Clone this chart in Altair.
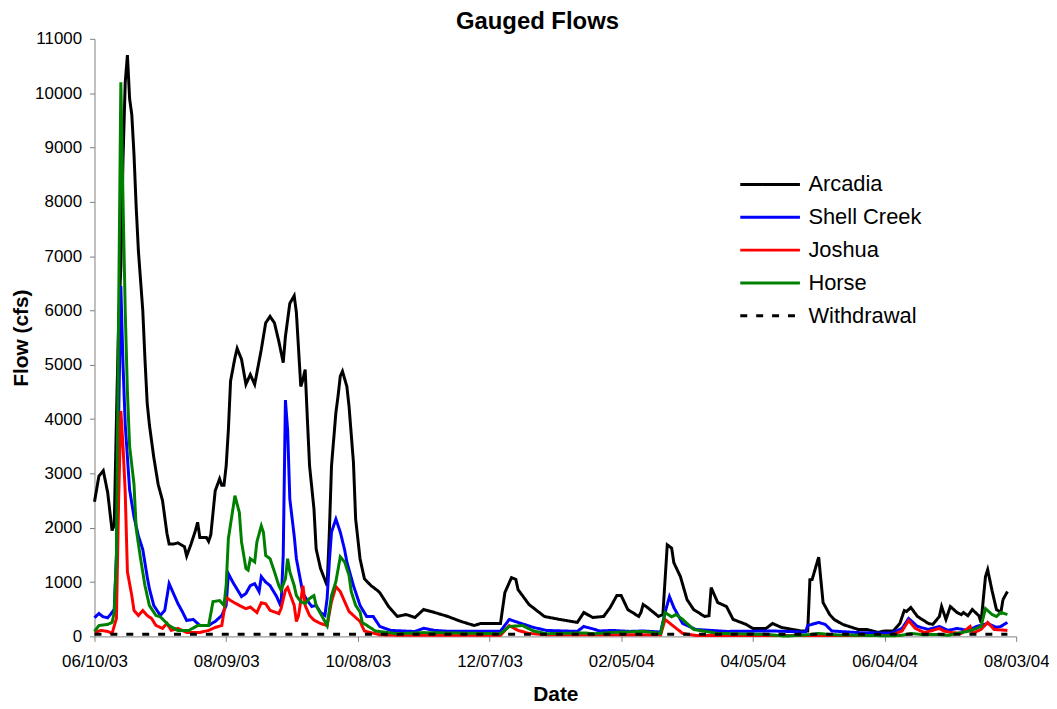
import altair as alt
import pandas as pd

START = "2003-06-10"

series_names = ["Arcadia", "Shell Creek", "Joshua", "Horse", "Withdrawal"]
series_colors = ["#000000", "#0000FF", "#FF0000", "#008000", "#000000"]

# day offsets from 06/10/03 and flows (cfs)
arcadia_days = [0, 2, 4, 6, 7, 8, 9, 10, 11, 12, 13, 14, 15, 16, 17, 18, 19, 20, 22, 23, 24, 25, 27, 29,
                31, 33, 34, 36, 38, 41, 42, 44, 46, 47, 48, 51, 52, 53, 55, 57, 58, 59, 60, 61, 62, 64,
                65, 67, 69, 71, 73, 76, 78, 80, 82, 84, 86, 87, 89, 91, 92, 94, 95, 96, 97, 98, 100, 101,
                103, 106, 107, 108, 110, 111, 112, 113, 115, 116, 118, 119, 121, 123, 126, 129, 130, 134,
                138, 142, 146, 150, 155, 161, 167, 173, 176, 185, 187, 190, 192, 193, 198, 205, 212, 220,
                223, 227, 232, 235, 238, 240, 243, 248, 249, 250, 252, 257, 259, 261, 263, 264, 267, 270,
                273, 278, 280, 281, 284, 288, 291, 297, 300, 306, 309, 313, 322, 325, 326, 327, 330, 332,
                335, 337, 341, 348, 352, 357, 360, 364, 367, 369, 370, 372, 375, 380, 382, 385, 386, 388,
                390, 393, 395, 396, 398, 400, 403, 404, 406, 407, 409, 411, 413, 414, 416]
arcadia_flow = [2480, 2950, 3050, 2650, 2300, 1950, 2050, 4000, 5800, 6800, 8800, 10200, 10700, 9900, 9600,
                8870, 7900, 7100, 6000, 5100, 4300, 3900, 3300, 2800, 2500, 1900, 1700, 1700, 1720, 1650,
                1480, 1700, 1950, 2100, 1820, 1820, 1750, 1870, 2680, 2900, 2780, 2780, 3140, 3800, 4700,
                5130, 5300, 5100, 4640, 4820, 4640, 5280, 5770, 5890, 5770, 5430, 5040, 5520, 6130, 6270,
                5960, 4600, 4730, 4910, 4000, 3140, 2350, 1610, 1250, 935, 1900, 3140, 4120, 4430, 4790,
                4880, 4600, 4230, 3200, 2160, 1430, 1060, 935, 843, 806, 550, 367, 403, 348, 495, 440, 367,
                275, 201, 238, 238, 806, 1081, 1050, 862, 587, 367, 312, 257, 440, 348, 367, 532, 752, 752,
                495, 367, 440, 587, 532, 367, 403, 1686, 1625, 1356, 1100, 678, 495, 367, 380, 898, 623,
                550, 312, 220, 147, 147, 238, 165, 100, 100, 1045, 1045, 1460, 623, 403, 312, 220, 128,
                128, 73, 100, 100, 238, 477, 458, 532, 367, 238, 220, 367, 550, 312, 550, 440, 400, 440,
                380, 495, 380, 257, 1100, 1228, 843, 495, 440, 678, 825]

shell_days = [0, 2, 4, 6, 8, 9, 10, 11, 12, 13, 14, 16, 18, 20, 22, 24, 25, 27, 30, 32, 34, 35, 38, 40, 42,
              45, 48, 52, 55, 58, 60, 61, 63, 67, 69, 71, 73, 75, 76, 78, 80, 83, 85, 86, 87, 88, 89, 91,
              92, 94, 95, 97, 99, 101, 103, 105, 106, 107, 108, 110, 112, 114, 115, 118, 121, 124, 127,
              130, 135, 146, 150, 155, 161, 185, 189, 193, 200, 206, 220, 223, 228, 230, 236, 244, 250,
              258, 260, 262, 264, 268, 274, 288, 309, 324, 325, 330, 333, 336, 348, 363, 368, 371, 375,
              380, 385, 389, 393, 398, 402, 407, 411, 413, 416]
shell_flow = [343, 421, 360, 343, 440, 500, 1500, 4000, 6450, 5000, 3900, 2700, 2200, 1850, 1600, 1100, 880,
              570, 385, 477, 970, 880, 605, 458, 293, 312, 202, 202, 275, 385, 570, 1155, 1000, 733, 790,
              935, 970, 825, 1100, 1000, 935, 733, 550, 1500, 4350, 3800, 2530, 1850, 1430, 1000, 790, 660,
              550, 570, 440, 385, 700, 1370, 1920, 2160, 1920, 1590, 1370, 935, 570, 367, 367, 183, 110,
              90, 150, 110, 95, 95, 312, 257, 165, 110, 92, 183, 128, 100, 110, 92, 100, 80, 440, 733, 532,
              238, 128, 92, 100, 80, 200, 257, 220, 100, 70, 60, 147, 330, 183, 128, 183, 110, 147, 110,
              183, 238, 165, 183, 257]

joshua_days = [0, 3, 6, 8, 10, 11, 12, 13, 14, 15, 17, 18, 20, 22, 24, 26, 28, 31, 33, 35, 38, 42, 48, 52,
               55, 58, 60, 62, 66, 69, 71, 74, 76, 78, 80, 84, 85, 87, 88, 91, 92, 93, 95, 96, 98, 100,
               103, 106, 108, 110, 112, 114, 116, 118, 121, 123, 130, 140, 185, 189, 193, 198, 206, 258,
               260, 264, 268, 274, 337, 363, 368, 371, 374, 378, 381, 385, 387, 390, 395, 399, 400, 404,
               407, 410, 416]
joshua_flow = [73, 110, 92, 55, 330, 2500, 4150, 3500, 2650, 1190, 750, 477, 385, 477, 385, 330, 202, 147,
               238, 110, 147, 73, 73, 110, 165, 200, 720, 660, 570, 510, 540, 440, 620, 600, 480, 420, 510,
               850, 900, 570, 275, 385, 935, 570, 385, 300, 238, 200, 640, 915, 825, 640, 458, 385, 275,
               100, 30, 20, 20, 200, 110, 55, 30, 30, 312, 183, 55, 18, 15, 18, 100, 293, 147, 73, 100, 147,
               100, 73, 55, 183, 55, 128, 257, 128, 110]

horse_days = [0, 2, 6, 8, 9, 10, 11, 12, 13, 14, 15, 16, 18, 19, 21, 23, 25, 28, 30, 34, 38, 43, 47, 50,
              52, 54, 57, 59, 60, 61, 64, 66, 67, 69, 70, 71, 73, 74, 76, 77, 78, 80, 82, 84, 85, 87, 88,
              89, 91, 92, 94, 96, 98, 100, 101, 103, 105, 106, 108, 110, 112, 114, 116, 117, 119, 121,
              122, 128, 138, 150, 185, 189, 195, 200, 206, 223, 228, 236, 250, 258, 260, 263, 265, 268,
              273, 284, 306, 315, 325, 330, 336, 363, 368, 372, 378, 384, 389, 393, 399, 404, 406, 409,
              411, 413, 416]
horse_flow = [92, 200, 220, 257, 440, 1500, 6000, 10200, 8000, 6000, 4500, 3500, 2800, 1980, 1430, 935, 570,
              385, 360, 200, 110, 110, 200, 200, 200, 640, 660, 570, 940, 1800, 2590, 2280, 1740, 1250,
              1220, 1430, 1370, 1740, 2035, 1910, 1490, 1430, 1190, 935, 850, 1060, 1430, 1190, 935, 750,
              640, 605, 700, 750, 570, 420, 275, 200, 750, 1010, 1465, 1370, 1120, 825, 570, 450, 257,
              100, 50, 70, 50, 183, 200, 100, 50, 64, 50, 73, 92, 55, 440, 360, 403, 312, 128, 55, 37, 5,
              30, 55, 30, 10, 20, 55, 30, 37, 20, 55, 100, 183, 513, 403, 367, 440, 403]

withdrawal_days = [0, 416]
withdrawal_flow = [40, 40]

start = pd.Timestamp(START)
rows = []
for name, days, flows in [
    ("Arcadia", arcadia_days, arcadia_flow),
    ("Shell Creek", shell_days, shell_flow),
    ("Joshua", joshua_days, joshua_flow),
    ("Horse", horse_days, horse_flow),
    ("Withdrawal", withdrawal_days, withdrawal_flow),
]:
    for d, f in zip(days, flows):
        rows.append({"series": name,
                     "date": (start + pd.Timedelta(days=d)).strftime("%Y-%m-%dT00:00:00"),
                     "flow": f})
df = pd.DataFrame(rows)

tick_dates = [(2003, 6, 10), (2003, 8, 9), (2003, 10, 8), (2003, 12, 7),
              (2004, 2, 5), (2004, 4, 5), (2004, 6, 4), (2004, 8, 3)]
tick_values = [alt.DateTime(year=y, month=m, date=d) for (y, m, d) in tick_dates]

FONT = "Liberation Sans"
AX = "#808080"

# long horizontal line symbol (path extends past the unit box so rows stay compact)
legend = alt.Legend(
    title=None, orient="none", legendX=663, legendY=130,
    symbolType="M-2,0H2", symbolSize=900, symbolStrokeWidth=3, symbolFillColor="transparent",
    labelFontSize=22, labelFont=FONT, labelColor="#000000", labelOffset=22,
    rowPadding=5, padding=0,
)

chart = alt.Chart(df).mark_line(strokeWidth=3).encode(
    x=alt.X("date:T",
            scale=alt.Scale(domain=[tick_values[0], tick_values[-1]]),
            axis=alt.Axis(values=tick_values, format="%m/%d/%y", title="Date",
                          grid=False, domainColor=AX, tickColor=AX, tickSize=5,
                          labelFontSize=17, labelFont=FONT, labelColor="#000000",
                          labelPadding=12, labelFlush=False, labelOverlap=False,
                          titleFontSize=21, titleFont=FONT, titleFontWeight="bold",
                          titleX=463.5, titleY=58, titleAlign="center", titleBaseline="middle")),
    y=alt.Y("flow:Q",
            scale=alt.Scale(domain=[0, 11000], nice=False),
            axis=alt.Axis(values=list(range(0, 11001, 1000)), format="d", title="Flow (cfs)",
                          grid=False, domainColor=AX, tickColor=AX, tickSize=5,
                          labelFontSize=17, labelFont=FONT, labelColor="#000000",
                          labelPadding=8, labelFlush=False, labelOverlap=False,
                          titleFontSize=21, titleFont=FONT, titleFontWeight="bold",
                          titleAngle=270, titleX=-73, titleY=300.5,
                          titleAlign="center", titleBaseline="middle")),
    color=alt.Color("series:N", scale=alt.Scale(domain=series_names, range=series_colors),
                    legend=legend),
    strokeDash=alt.StrokeDash("series:N",
                              scale=alt.Scale(domain=series_names,
                                              range=[[1, 0], [1, 0], [1, 0], [1, 0], [7, 9]]),
                              legend=legend),
).properties(
    width=927, height=601,
    title=alt.TitleParams("Gauged Flows", fontSize=24, font=FONT, fontWeight="bold",
                          anchor="middle", dx=-18, offset=-4, color="#000000"),
    autosize=alt.AutoSizeParams(type="none"),
    padding={"left": 87, "top": 29, "right": 33, "bottom": 71},
).configure_view(stroke=None)

chart.save("out.html", embed_options={"renderer": "svg", "actions": False})
